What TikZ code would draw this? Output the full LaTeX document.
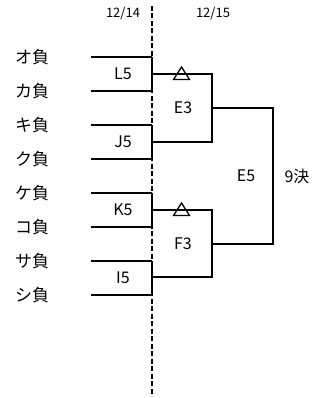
\documentclass[tikz,border=0pt]{standalone}
\usepackage{fontspec}
\setmainfont{Noto Sans CJK JP}
\begin{document}
\begin{tikzpicture}[x=1pt,y=-1pt,
  team/.style={font=\fontsize{17}{17}\selectfont, inner sep=0pt},
  lbl/.style={font=\fontsize{16}{16}\selectfont, inner sep=0pt},
  datel/.style={font=\fontsize{13}{13}\selectfont, inner sep=0pt},
  br/.style={line width=1.4pt},
  vbar/.style={line width=1.8pt},
  tri/.style={line width=1.3pt}]
\useasboundingbox (0,0) rectangle (327,398);
% date separator
\coordinate (dtop) at (152,6);
\coordinate (dbot) at (152,396);
\draw[line width=1.4pt, dash pattern=on 5pt off 2.5pt] (dtop) -- (dbot);
\node[datel] (d1) at (123,14) {12/14};
\node[datel] (d2) at (213,14) {12/15};
% teams
\foreach \n/\t/\y in {a/オ負/57,b/カ負/91,c/キ負/125,d/ク負/159,e/ケ負/193,f/コ負/227,g/サ負/261,h/シ負/295}{
  \node[team] (t\n) at (32,\y) {\t};
  \coordinate (s\n) at (91,\y);
  \coordinate (e\n) at (152,\y);
  \draw[br] (s\n) -- (e\n);
}
% first round verticals
\draw[vbar] (ea) -- (eb);
\draw[vbar] (ec) -- (ed);
\draw[vbar] (ee) -- (ef);
\draw[vbar] (eg) -- (eh);
\node[lbl] (L5) at (123,74) {L5};
\node[lbl] (J5) at (123,142) {J5};
\node[lbl] (K5) at (123,210) {K5};
\node[lbl] (I5) at (123,278) {I5};
% second round
\coordinate (m1) at (152,74);
\coordinate (m2) at (152,142);
\coordinate (m3) at (152,210);
\coordinate (m4) at (152,277);
\coordinate (r1) at (212,74);
\coordinate (r2) at (212,142);
\coordinate (r3) at (212,210);
\coordinate (r4) at (212,277);
\draw[br] (m1) -- (r1) -- (r2) -- (m2);
\draw[br] (m3) -- (r3) -- (r4) -- (m4);
\node[lbl] (E3) at (183,108) {E3};
\node[lbl] (F3) at (183,244) {F3};
% triangles
\draw[tri] (181.5,67) -- (189.5,79.5) -- (173.5,79.5) -- cycle;
\draw[tri] (181.5,203) -- (189.5,215.5) -- (173.5,215.5) -- cycle;
% final
\coordinate (q1) at (212,108);
\coordinate (q2) at (273,108);
\coordinate (q3) at (273,244);
\coordinate (q4) at (212,244);
\draw[br] (q1) -- (q2) -- (q3) -- (q4);
\node[lbl] (E5) at (246,176) {E5};
\node[lbl] (k9) at (297,176) {9決};
\end{tikzpicture}
\end{document}
